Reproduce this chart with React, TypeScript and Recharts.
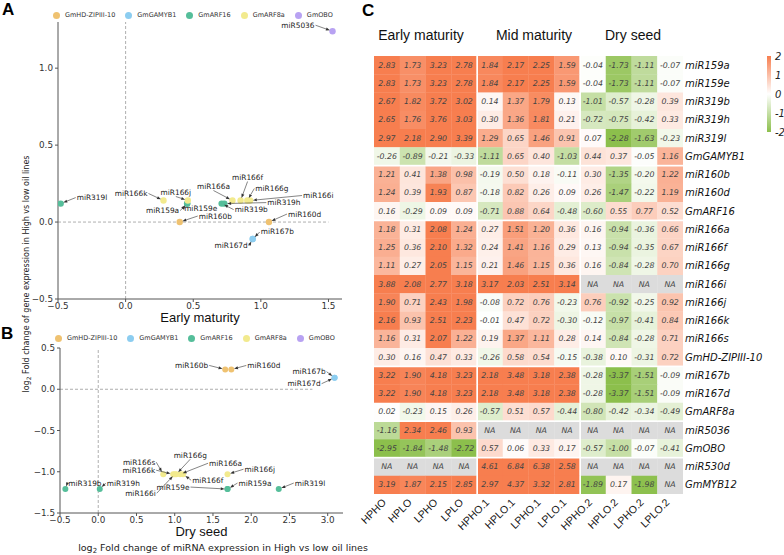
import React from 'react';
import { ScatterChart, Scatter, XAxis, YAxis, ReferenceLine, Label } from 'recharts';

const GENES = ['GmHD-ZIPIII-10', 'GmGAMYB1', 'GmARF16', 'GmARF8a', 'GmOBO'];
const GENE_COLORS = ['#EFC271', '#8CCDF0', '#55BE9A', '#F2EA8E', '#B8A2F2'];

// [miRNA, gene index, miRNA log2FC, gene log2FC]
const EARLY_POINTS: [string, number, number, number][] = [
  ['miR160b', 0, 0.40, 0.0],
  ['miR160d', 0, 1.06, 0.0],
  ['miR167b', 1, 0.94, -0.11],
  ['miR167d', 1, 0.94, -0.11],
  ['miR166k', 3, 0.28, 0.14],
  ['miR166j', 3, 0.46, 0.14],
  ['miR166a', 3, 0.79, 0.14],
  ['miR166f', 3, 0.85, 0.14],
  ['miR166g', 3, 0.90, 0.14],
  ['miR166i', 3, 0.92, 0.14],
  ['miR319l', 2, -0.48, 0.12],
  ['miR159a', 2, 0.455, 0.12],
  ['miR159e', 2, 0.455, 0.12],
  ['miR319b', 2, 0.71, 0.12],
  ['miR319h', 2, 0.73, 0.12],
  ['miR5036', 4, 1.53, 1.24],
];

const DRY_POINTS: [string, number, number, number][] = [
  ['miR160b', 0, 1.66, 0.24],
  ['miR160d', 0, 1.74, 0.24],
  ['miR167b', 1, 3.09, 0.14],
  ['miR167d', 1, 3.09, 0.14],
  ['miR319b', 2, -0.43, -1.21],
  ['miR319h', 2, 0.02, -1.21],
  ['miR159a', 2, 1.69, -1.21],
  ['miR159e', 2, 1.69, -1.21],
  ['miR319l', 2, 2.36, -1.21],
  ['miR166s', 3, 0.85, -1.03],
  ['miR166k', 3, 0.98, -1.03],
  ['miR166i', 3, 1.0, -1.03],
  ['miR166g', 3, 1.02, -1.03],
  ['miR166a', 3, 1.07, -1.03],
  ['miR166f', 3, 1.11, -1.03],
  ['miR166j', 3, 1.69, -1.03],
];

const STAGES = ['Early maturity', 'Mid maturity', 'Dry seed'];
const HEAT_COLS = ['HPHO', 'HPLO', 'LPHO', 'LPLO', 'HPHO.1', 'HPLO.1', 'LPHO.1', 'LPLO.1', 'HPHO.2', 'HPLO.2', 'LPHO.2', 'LPLO.2'];
const HEAT_ROWS = [
  'miR159a', 'miR159e', 'miR319b', 'miR319h', 'miR319l', 'GmGAMYB1',
  'miR160b', 'miR160d', 'GmARF16',
  'miR166a', 'miR166f', 'miR166g', 'miR166i', 'miR166j', 'miR166k', 'miR166s', 'GmHD-ZIPIII-10',
  'miR167b', 'miR167d', 'GmARF8a',
  'miR5036', 'GmOBO',
  'miR530d', 'GmMYB12',
];
const HEAT_VALUES: (number | null)[][] = [
  [2.83, 1.73, 3.23, 2.78, 1.84, 2.17, 2.25, 1.59, -0.04, -1.73, -1.11, -0.07],
  [2.83, 1.73, 3.23, 2.78, 1.84, 2.17, 2.25, 1.59, -0.04, -1.73, -1.11, -0.07],
  [2.67, 1.82, 3.72, 3.02, 0.14, 1.37, 1.79, 0.13, -1.01, -0.57, -0.28, 0.39],
  [2.65, 1.76, 3.76, 3.03, 0.30, 1.36, 1.81, 0.21, -0.72, -0.75, -0.42, 0.33],
  [2.97, 2.18, 2.90, 3.39, 1.29, 0.65, 1.46, 0.91, 0.07, -2.28, -1.63, -0.23],
  [-0.26, -0.89, -0.21, -0.33, -1.11, 0.65, 0.40, -1.03, 0.44, 0.37, -0.05, 1.16],
  [1.21, 0.41, 1.38, 0.98, -0.19, 0.50, 0.18, -0.11, 0.30, -1.35, -0.20, 1.22],
  [1.24, 0.39, 1.93, 0.87, -0.18, 0.82, 0.26, 0.09, 0.26, -1.47, -0.22, 1.19],
  [0.16, -0.29, 0.09, 0.09, -0.71, 0.88, 0.64, -0.48, -0.60, 0.55, 0.77, 0.52],
  [1.18, 0.31, 2.08, 1.24, 0.27, 1.51, 1.20, 0.36, 0.16, -0.94, -0.36, 0.66],
  [1.25, 0.36, 2.10, 1.32, 0.24, 1.41, 1.16, 0.29, 0.13, -0.94, -0.35, 0.67],
  [1.11, 0.27, 2.05, 1.15, 0.21, 1.46, 1.15, 0.36, 0.16, -0.84, -0.28, 0.70],
  [3.88, 2.08, 2.77, 3.18, 3.17, 2.03, 2.51, 3.14, null, null, null, null],
  [1.90, 0.71, 2.43, 1.98, -0.08, 0.72, 0.76, -0.23, 0.76, -0.92, -0.25, 0.92],
  [2.16, 0.93, 2.51, 2.23, -0.01, 0.47, 0.72, -0.30, -0.12, -0.97, -0.41, 0.84],
  [1.16, 0.31, 2.07, 1.22, 0.19, 1.37, 1.11, 0.28, 0.14, -0.84, -0.28, 0.71],
  [0.30, 0.16, 0.47, 0.33, -0.26, 0.58, 0.54, -0.15, -0.38, 0.10, -0.31, 0.72],
  [3.22, 1.90, 4.18, 3.23, 2.18, 3.48, 3.18, 2.38, -0.28, -3.37, -1.51, -0.09],
  [3.22, 1.90, 4.18, 3.23, 2.18, 3.48, 3.18, 2.38, -0.28, -3.37, -1.51, -0.09],
  [0.02, -0.23, 0.15, 0.26, -0.57, 0.51, 0.57, -0.44, -0.80, -0.42, -0.34, -0.49],
  [-1.16, 2.34, 2.46, 0.93, null, null, null, null, null, null, null, null],
  [-2.95, -1.84, -1.48, -2.72, 0.57, 0.06, 0.33, 0.17, -0.57, -1.00, -0.07, -0.41],
  [null, null, null, null, 4.61, 6.84, 6.38, 2.58, null, null, null, null],
  [3.19, 1.87, 2.15, 2.85, 2.97, 4.37, 3.32, 2.81, -1.89, 0.17, -1.98, null],
];
const COLORBAR_TICKS = [2, 1, 0, -1, -2];

// first row / column of each block in the heatmap
const ROW_BREAKS = [6, 9, 17, 20, 22];
const COL_BREAKS = [4, 8];

// label placement: [dx, dy, anchor] in px from the point
type Lab = [number, number, 'start' | 'middle' | 'end'];
const EARLY_LABELS: Record<string, Lab> = {
  miR5036: [-18, -6, 'end'],
  miR319l: [16, -6, 'start'],
  miR166k: [-16, -7, 'end'],
  miR166j: [-12, -8, 'middle'],
  miR159a: [-8, 7, 'end'],
  miR159e: [-3, 5, 'start'],
  miR160b: [19, -6, 'start'],
  miR160d: [19, -8, 'start'],
  miR166a: [-19, -14, 'middle'],
  miR166f: [7, -23, 'middle'],
  miR166g: [8, -12, 'start'],
  miR166i: [53, -5, 'start'],
  miR319h: [43, -1, 'start'],
  miR319b: [13, 6, 'start'],
  miR167b: [8, -7, 'start'],
  miR167d: [-5, 7, 'end'],
};
const DRY_LABELS: Record<string, Lab> = {
  miR160b: [-17, -4, 'end'],
  miR160d: [16, -4, 'start'],
  miR167b: [-9, -6, 'end'],
  miR167d: [-14, 6, 'end'],
  miR166s: [-8, -12, 'end'],
  miR166g: [14, -19, 'middle'],
  miR166a: [29, -11, 'start'],
  miR166j: [17, -5, 'start'],
  miR166k: [-18, -4, 'end'],
  miR166f: [9, 6, 'start'],
  miR166i: [-19, 19, 'end'],
  miR159e: [-38, -2, 'end'],
  miR159a: [11, -6, 'start'],
  miR319l: [16, -6, 'start'],
  miR319b: [3, -6, 'start'],
  miR319h: [7, -6, 'start'],
};

const HEAT_W = 309;
const HEAT_H = 438;
const CELL_W = HEAT_W / HEAT_COLS.length;
const CELL_H = HEAT_H / HEAT_ROWS.length;

const POS = [247, 126, 79];
const NEG = [140, 191, 76];

function heatColor(v: number) {
  const t = Math.min(Math.abs(v) / 2, 1);
  const c = v >= 0 ? POS : NEG;
  const m = c.map(k => Math.round(255 + (k - 255) * t));
  return `rgb(${m[0]},${m[1]},${m[2]})`;
}

const fmt = (v: number) => (v < 0 ? '\u2212' : '') + Math.abs(v).toFixed(1);

const toSeries = (pts: [string, number, number, number][]) =>
  GENES.map((_, gi) => pts.filter(p => p[1] === gi).map(p => ({ name: p[0], x: p[2], y: p[3] })));
const toAll = (pts: [string, number, number, number][]) => pts.map(p => ({ name: p[0], x: p[2], y: p[3] }));

const dotShape = (r: number) => (props: any) => <circle cx={props.cx} cy={props.cy} r={r} fill={props.fill} />;

const labelShape = (labels: Record<string, Lab>) => (props: any) => {
  const { cx, cy, payload } = props;
  const lab = labels[payload.name];
  if (!lab) return <g />;
  const [dx, dy, anchor] = lab;
  const tx = cx + dx;
  const ty = cy + dy;
  let sx = tx;
  let sy = ty;
  if (anchor === 'start') sx = tx - 1;
  else if (anchor === 'end') sx = tx + 1;
  else sy = ty + (dy < 0 ? 4 : -4);
  const vx = cx - sx;
  const vy = cy - sy;
  const len = Math.hypot(vx, vy) || 1;
  const ux = vx / len;
  const uy = vy / len;
  const ex = cx - ux * 2.8;
  const ey = cy - uy * 2.8;
  const hx = ex - ux * 4;
  const hy = ey - uy * 4;
  const px = -uy * 1.5;
  const py = ux * 1.5;
  return (
    <g>
      {len > 6 && (
        <g>
          <line x1={sx} y1={sy} x2={hx} y2={hy} stroke="#333" strokeWidth={0.6} />
          <polygon points={`${ex},${ey} ${hx + px},${hy + py} ${hx - px},${hy - py}`} fill="#333" />
        </g>
      )}
      <text x={tx} y={ty} textAnchor={anchor} dominantBaseline="central" fontSize={7.4} fill="#222">
        {payload.name}
      </text>
    </g>
  );
};

const heatCell = (props: any) => {
  const { cx, cy, payload } = props;
  const { r, c, v } = payload;
  const l = COL_BREAKS.includes(c) ? 1 : 0;
  const rt = COL_BREAKS.includes(c + 1) ? 1 : 0;
  const t = ROW_BREAKS.includes(r) ? 1 : 0;
  const b = ROW_BREAKS.includes(r + 1) ? 1 : 0;
  return (
    <g>
      <rect
        x={cx - CELL_W / 2 + l}
        y={cy - CELL_H / 2 + t}
        width={CELL_W - l - rt + 0.3}
        height={CELL_H - t - b + 0.3}
        fill={v === null ? '#DCDCDC' : heatColor(v)}
      />
      <text x={cx} y={cy} textAnchor="middle" dominantBaseline="central" fontSize={7.8} fontStyle="italic" fill="#444">
        {v === null ? 'NA' : v.toFixed(2)}
      </text>
    </g>
  );
};

const RowTick = (props: any) => (
  <text x={props.x} y={props.y} textAnchor="start" dominantBaseline="central" fontSize={10} fontStyle="italic" fill="#111">
    {HEAT_ROWS[props.payload.value]}
  </text>
);

const ColTick = (props: any) => (
  <text
    transform={`translate(${props.x},${props.y + 7}) rotate(-45)`}
    textAnchor="end"
    fontSize={10.5}
    fontFamily="'Liberation Sans', Arial, sans-serif"
    fill="#111"
  >
    {HEAT_COLS[props.payload.value]}
  </text>
);

function GeneLegend({ top, left }: { top: number; left: number }) {
  return (
    <div style={{ position: 'absolute', top, left, display: 'flex', alignItems: 'center', gap: 10, fontSize: 6.5, lineHeight: '8px', color: '#333' }}>
      {GENES.map((g, i) => (
        <div key={g} style={{ display: 'flex', alignItems: 'center' }}>
          <span style={{ width: 7, height: 7, borderRadius: '50%', background: GENE_COLORS[i], marginRight: 5 }} />
          {g}
        </div>
      ))}
    </div>
  );
}

const axisStyle = {
  axisLine: { stroke: '#555' },
  tickLine: { stroke: '#555' },
  tick: { fontSize: 8.8, fill: '#333' },
  tickSize: 3,
};

export default function App() {
  const early = toSeries(EARLY_POINTS);
  const dry = toSeries(DRY_POINTS);
  const heatData = HEAT_VALUES.flatMap((row, r) => row.map((v, c) => ({ r, c, v })));

  return (
    <div style={{ position: 'absolute', left: 0, top: 0, width: 784, height: 555, background: '#fff', overflow: 'hidden', fontFamily: "'DejaVu Sans', sans-serif" }}>
      <div style={{ position: 'absolute', left: 0, top: 0 }}>
        <ScatterChart width={360} height={325} margin={{ top: 22, right: 18, bottom: 0, left: 0 }}>
          <XAxis type="number" dataKey="x" domain={[-0.5, 1.6]} ticks={[-0.5, 0, 0.5, 1, 1.5]} tickFormatter={fmt} height={26} tickMargin={1} allowDataOverflow {...axisStyle}>
            <Label value="Early maturity" position="insideBottom" offset={3} style={{ fontSize: 13, fill: '#111', fontFamily: "'Liberation Sans', Arial, sans-serif" }} />
          </XAxis>
          <YAxis type="number" dataKey="y" domain={[-0.5, 1.3]} ticks={[-0.5, 0, 0.5, 1]} tickFormatter={fmt} width={58} tickMargin={2} allowDataOverflow {...axisStyle} />
          <ReferenceLine x={0} stroke="#999" strokeDasharray="3 2" strokeWidth={0.8} />
          <ReferenceLine segment={[{ x: -0.5, y: 0 }, { x: 1.5, y: 0 }]} stroke="#999" strokeDasharray="3 2" strokeWidth={0.8} />
          {early.map((d, i) => (
            <Scatter key={GENES[i]} name={GENES[i]} data={d} fill={GENE_COLORS[i]} shape={dotShape(3.2)} isAnimationActive={false} />
          ))}
          <Scatter data={toAll(EARLY_POINTS)} shape={labelShape(EARLY_LABELS)} legendType="none" isAnimationActive={false} />
        </ScatterChart>
      </div>

      <div style={{ position: 'absolute', left: 0, top: 330 }}>
        <ScatterChart width={360} height={209} margin={{ top: 18, right: 17, bottom: 0, left: 0 }}>
          <XAxis type="number" dataKey="x" domain={[-0.5, 3.2]} ticks={[-0.5, 0, 0.5, 1, 1.5, 2, 2.5, 3]} tickFormatter={fmt} height={26} tickMargin={1} allowDataOverflow {...axisStyle}>
            <Label value="Dry seed" position="insideBottom" offset={3} style={{ fontSize: 13, fill: '#111', fontFamily: "'Liberation Sans', Arial, sans-serif" }} />
          </XAxis>
          <YAxis type="number" dataKey="y" domain={[-1.5, 0.5]} ticks={[-1.5, -1, -0.5, 0, 0.5]} tickFormatter={fmt} width={60} tickMargin={2} allowDataOverflow {...axisStyle} />
          <ReferenceLine x={0} stroke="#999" strokeDasharray="3 2" strokeWidth={0.8} />
          <ReferenceLine segment={[{ x: -0.5, y: 0 }, { x: 2.8, y: 0 }]} stroke="#999" strokeDasharray="3 2" strokeWidth={0.8} />
          {dry.map((d, i) => (
            <Scatter key={GENES[i]} name={GENES[i]} data={d} fill={GENE_COLORS[i]} shape={dotShape(3)} isAnimationActive={false} />
          ))}
          <Scatter data={toAll(DRY_POINTS)} shape={labelShape(DRY_LABELS)} legendType="none" isAnimationActive={false} />
        </ScatterChart>
      </div>

      <div style={{ position: 'absolute', left: 340, top: 0 }}>
        <ScatterChart width={444} height={555} margin={{ top: 56, right: 6, bottom: 0, left: 34 }}>
          <XAxis type="number" dataKey="c" domain={[-0.5, 11.5]} ticks={HEAT_COLS.map((_, i) => i)} height={61} axisLine={false} tickLine={false} tickSize={0} tickMargin={2} tick={<ColTick />} interval={0} allowDataOverflow />
          <YAxis type="number" dataKey="r" domain={[-0.5, 23.5]} reversed orientation="right" ticks={HEAT_ROWS.map((_, i) => i)} width={95} axisLine={false} tickLine={false} tickSize={0} tickMargin={2} tick={<RowTick />} interval={0} allowDataOverflow />
          <Scatter data={heatData} shape={heatCell} isAnimationActive={false} />
        </ScatterChart>
      </div>

      <GeneLegend top={11} left={53} />
      <GeneLegend top={334} left={55} />

      <svg width={784} height={555} style={{ position: 'absolute', left: 0, top: 0, pointerEvents: 'none' }}>
        <defs>
          <linearGradient id="cbar" x1="0" y1="0" x2="0" y2="1">
            <stop offset="0%" stopColor={heatColor(2)} />
            <stop offset="50%" stopColor="#fff" />
            <stop offset="100%" stopColor={heatColor(-2)} />
          </linearGradient>
        </defs>
        <g fontFamily="'Liberation Sans', Arial, sans-serif" fontWeight="bold" fontSize={17} fill="#000">
          <text x={2} y={15}>A</text>
          <text x={1} y={339}>B</text>
          <text x={362} y={16}>C</text>
        </g>
        <text transform="translate(29,274) rotate(-90)" textAnchor="middle" fontSize={8} fill="#222">
          log<tspan fontSize={6} dy={2}>2</tspan>
          <tspan dy={-2}> Fold change of gene expression in High vs low oil lines</tspan>
        </text>
        <text x={223} y={551} textAnchor="middle" fontSize={9.5} fill="#222">
          log<tspan fontSize={7} dy={2}>2</tspan>
          <tspan dy={-2}> Fold change of miRNA expression in High vs low oil lines</tspan>
        </text>
        <g fontFamily="'Liberation Sans', Arial, sans-serif" fontSize={14} fill="#111" textAnchor="middle">
          <text x={421} y={40}>{STAGES[0]}</text>
          <text x={534} y={40}>{STAGES[1]}</text>
          <text x={633} y={40}>{STAGES[2]}</text>
        </g>
        <rect x={767} y={56} width={4} height={76} fill="url(#cbar)" />
        {COLORBAR_TICKS.map((t, i) => (
          <text key={t} x={775} y={56 + i * 19} dominantBaseline="central" fontSize={10} fontStyle="italic" fill="#222">
            {t}
          </text>
        ))}
      </svg>
    </div>
  );
}
